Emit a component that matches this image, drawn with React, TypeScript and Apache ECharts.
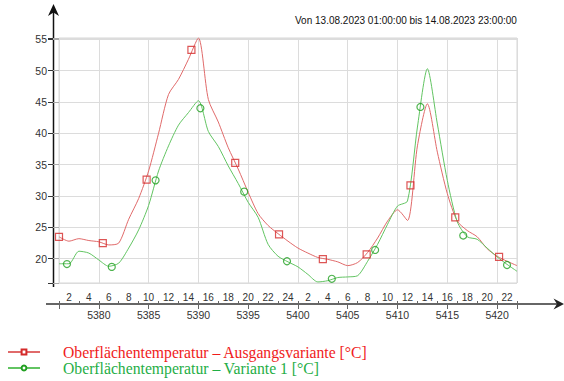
import React, { useEffect, useRef } from 'react';
import * as echarts from 'echarts';

// Stunde des Jahres (x-Werte)
const hourOfYear = [
  5376, 5377, 5378, 5379, 5380, 5381, 5382, 5383, 5384, 5385, 5386, 5387,
  5388, 5389, 5390, 5391, 5392, 5393, 5394, 5395, 5396, 5397, 5398, 5399,
  5400, 5401, 5402, 5403, 5404, 5405, 5406, 5407, 5408, 5409, 5410, 5411,
  5412, 5413, 5414, 5415, 5416, 5417, 5418, 5419, 5420, 5421, 5422,
];

// Uhrzeit-Beschriftung je Stunde
const hourLabels = [
  '1', '2', '3', '4', '5', '6', '7', '8', '9', '10', '11', '12',
  '13', '14', '15', '16', '17', '18', '19', '20', '21', '22', '23', '24',
  '1', '2', '3', '4', '5', '6', '7', '8', '9', '10', '11', '12',
  '13', '14', '15', '16', '17', '18', '19', '20', '21', '22', '23',
];

const ausgangsvariante = [
  23.5, 22.8, 23.2, 22.9, 22.7, 22.2, 22.5, 26.3, 29.6, 34.0, 40.0, 46.2,
  48.6, 51.8, 55.2, 45.4, 41.8, 37.7, 34.3, 30.6, 27.2, 25.3, 24.0, 22.8,
  21.7, 20.9, 20.2, 19.9, 19.5, 18.9, 19.4, 21.0, 23.3, 26.0, 27.8, 26.1,
  38.0, 44.7, 37.0, 30.4, 26.0, 24.5, 23.5, 21.6, 20.4, 19.6, 18.9,
];

const variante1 = [
  19.2, 19.2, 21.2, 20.9, 19.8, 18.8, 19.3, 21.7, 24.6, 28.5, 34.0, 38.0,
  41.3, 43.3, 45.2, 40.3, 37.9, 34.8, 32.0, 29.0, 26.6, 22.3, 20.4, 19.5,
  18.7, 17.5, 16.3, 16.5, 17.0, 17.1, 17.3, 19.6, 22.3, 25.5, 28.4, 29.2,
  41.0, 50.3, 41.5, 32.5, 25.9, 23.5, 23.1, 21.7, 20.3, 19.1, 18.0,
];

// Markierungen (Symbole entlang der Kurven)
const ausgangsMarkerX = [5376.0, 5380.4, 5384.8, 5389.3, 5393.7, 5398.1, 5402.5, 5406.9, 5411.3, 5415.8, 5420.2];
const ausgangsMarkerY = [23.5, 22.5, 32.6, 53.3, 35.3, 23.9, 19.95, 20.7, 31.7, 26.6, 20.3];
const variante1MarkerX = [5376.8, 5381.3, 5385.7, 5390.2, 5394.6, 5398.9, 5403.4, 5407.75, 5412.3, 5416.6, 5421.0];
const variante1MarkerY = [19.15, 18.7, 32.5, 44.0, 30.7, 19.6, 16.8, 21.4, 44.2, 23.7, 19.0];

const seriesNames = [
  'Oberflächentemperatur – Ausgangsvariante [°C]',
  'Oberflächentemperatur – Variante 1 [°C]',
];
const titleText = 'Von 13.08.2023 01:00:00 bis 14.08.2023 23:00:00';

const SANS = '"Liberation Sans", Arial, sans-serif';
const SERIF = '"Liberation Serif", "Times New Roman", serif';

const RED_LINE = '#e06a6a';
const RED_MARK = '#d42a2a';
const GREEN_LINE = '#62c462';
const GREEN_MARK = '#22a022';

function pairs(xs: number[], ys: number[]) {
  return xs.map((x, i) => [x, ys[i]]);
}

export default function App() {
  const ref = useRef<HTMLDivElement>(null);

  useEffect(() => {
    document.body.style.margin = '0';
    const chart = echarts.init(ref.current!, null, { renderer: 'svg' });
    const fmt5 = (v: number) => (Math.abs(v % 5) < 1e-9 ? String(v) : '');
    chart.setOption({
      animation: false,
      backgroundColor: '#ffffff',
      title: {
        text: titleText,
        left: 295,
        top: 15,
        padding: 0,
        textStyle: { fontSize: 10, fontWeight: 'normal', color: '#111', fontFamily: SANS },
      },
      grid: {
        left: 59,
        top: 38,
        width: 458,
        height: 245,
        show: true,
        borderColor: '#d6d6d6',
        borderWidth: 1,
        backgroundColor: 'transparent',
      },
      legend: {
        orient: 'vertical',
        left: 7,
        top: 344,
        padding: 0,
        itemGap: 0,
        itemWidth: 32,
        itemHeight: 6,
        textStyle: { fontSize: 15.7, fontFamily: SERIF, lineHeight: 13.5, padding: [0, 0, 0, 18] },
        data: [
          { name: seriesNames[0], textStyle: { color: '#f01c1c' } },
          { name: seriesNames[1], textStyle: { color: '#1fae46' } },
        ],
      },
      xAxis: [
        {
          type: 'value',
          gridIndex: 0,
          min: 5376,
          max: 5422,
          minInterval: 5,
          maxInterval: 5,
          position: 'bottom',
          offset: 21,
          axisLine: { show: false },
          axisTick: { show: true, length: 5, lineStyle: { color: '#666' } },
          axisLabel: { margin: 5, fontSize: 10.5, color: '#333', fontFamily: SANS, formatter: fmt5 },
          splitLine: { show: true, lineStyle: { color: '#dcdcdc', width: 1 } },
        },
        {
          type: 'category',
          gridIndex: 0,
          data: hourLabels,
          boundaryGap: false,
          position: 'bottom',
          offset: 21,
          axisLine: { show: false },
          axisTick: {
            show: true,
            inside: true,
            length: 3,
            interval: (i: number) => i % 2 === 0,
            lineStyle: { color: '#666' },
          },
          axisLabel: {
            inside: true,
            margin: 2,
            interval: (i: number) => i % 2 === 1,
            fontSize: 10,
            color: '#333',
            fontFamily: SANS,
          },
          splitLine: { show: false },
        },
      ],
      yAxis: [
        {
          type: 'value',
          min: 16.13,
          max: 55.2,
          minInterval: 5,
          maxInterval: 5,
          position: 'left',
          offset: 6,
          axisLine: { show: false },
          axisTick: { show: true, length: 5, lineStyle: { color: '#333' } },
          axisLabel: { margin: 6, fontSize: 10.5, color: '#333', fontFamily: SANS, formatter: fmt5 },
          splitLine: { show: true, lineStyle: { color: '#dcdcdc', width: 1 } },
        },
        {
          type: 'value',
          min: 16.13,
          max: 55.2,
          minInterval: 5,
          maxInterval: 5,
          position: 'left',
          offset: 0,
          axisLine: { show: false },
          axisTick: { show: true, length: 6, lineStyle: { color: '#aaa' } },
          axisLabel: { show: false },
          splitLine: { show: false },
        },
      ],
      series: [
        {
          name: seriesNames[0],
          type: 'line',
          xAxisIndex: 0,
          yAxisIndex: 0,
          data: pairs(hourOfYear, ausgangsvariante),
          smooth: 0.25,
          symbol: 'emptyRect',
          symbolSize: 6,
          showSymbol: false,
          lineStyle: { color: RED_LINE, width: 1 },
          itemStyle: { color: RED_MARK },
          z: 3,
        },
        {
          name: seriesNames[1],
          type: 'line',
          xAxisIndex: 0,
          yAxisIndex: 0,
          data: pairs(hourOfYear, variante1),
          smooth: 0.25,
          symbol: 'emptyCircle',
          symbolSize: 6,
          showSymbol: false,
          lineStyle: { color: GREEN_LINE, width: 1 },
          itemStyle: { color: GREEN_MARK },
          z: 3,
        },
        {
          name: seriesNames[0],
          type: 'scatter',
          xAxisIndex: 0,
          yAxisIndex: 0,
          data: pairs(ausgangsMarkerX, ausgangsMarkerY),
          symbol: 'rect',
          symbolSize: 7,
          itemStyle: { color: 'rgba(255,255,255,0)', borderColor: RED_MARK, borderWidth: 1.2 },
          z: 4,
        },
        {
          name: seriesNames[1],
          type: 'scatter',
          xAxisIndex: 0,
          yAxisIndex: 0,
          data: pairs(variante1MarkerX, variante1MarkerY),
          symbol: 'circle',
          symbolSize: 7,
          itemStyle: { color: 'rgba(255,255,255,0)', borderColor: GREEN_MARK, borderWidth: 1.2 },
          z: 4,
        },
      ],
      graphic: [
        { type: 'line', shape: { x1: 53.5, y1: 10, x2: 53.5, y2: 287 }, style: { stroke: '#111', lineWidth: 1.5 } },
        { type: 'polygon', shape: { points: [[53.5, 4], [59, 16], [53.5, 12.5], [48, 16]] }, style: { fill: '#111' } },
        { type: 'line', shape: { x1: 46, y1: 304, x2: 558, y2: 304 }, style: { stroke: '#666', lineWidth: 2 } },
        { type: 'polygon', shape: { points: [[564, 304], [553.5, 298.5], [557, 304], [553.5, 309.5]] }, style: { fill: '#222' } },
      ],
    });
    return () => chart.dispose();
  }, []);

  return <div ref={ref} style={{ position: 'absolute', left: 0, top: 0, width: 564, height: 381 }} />;
}
